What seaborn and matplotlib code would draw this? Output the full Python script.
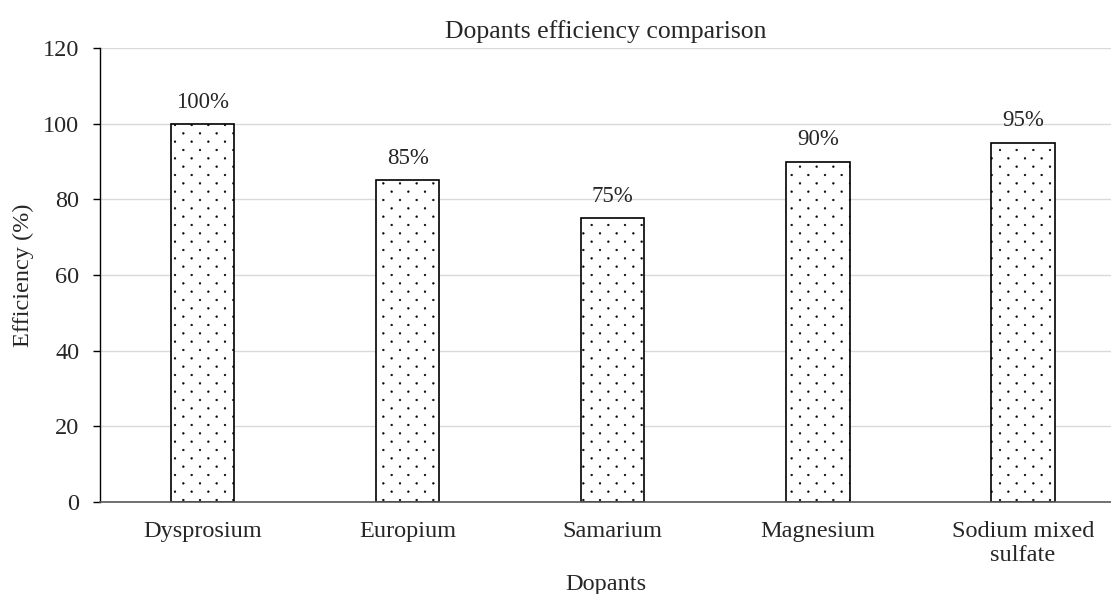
import matplotlib
matplotlib.use("Agg")
import matplotlib.pyplot as plt
import matplotlib.hatch as mhatch
from matplotlib.path import Path
import numpy as np
import seaborn as sns
import pandas as pd

categories = ["Dysprosium", "Europium", "Samarium", "Magnesium", "Sodium mixed\nsulfate"]
efficiency = [100, 85, 75, 90, 95]
labels = ["100%", "85%", "75%", "90%", "95%"]


# Dot texture: staggered lattice, rows twice as dense as columns
class DenseDots(mhatch.HatchPatternBase):
    size = 0.055

    def __init__(self, hatch, density):
        self.n = hatch.count('.') * density
        circ = Path.unit_circle()
        self.sv = circ.vertices
        self.sc = circ.codes
        if self.n == 0:
            self.num_vertices = 0
        else:
            n = self.n
            self.num_vertices = ((n + 1) ** 2 + n ** 2) * len(self.sv)

    def set_vertices_and_codes(self, vertices, codes):
        n = self.n
        off = 1.0 / n
        sv = self.sv * off * self.size
        vparts, cparts = [], []
        for row in range(2 * n + 1):
            if row % 2 == 0:
                cols = np.linspace(0, 1, n + 1)
            else:
                cols = np.linspace(off / 2, 1 - off / 2, n)
            y = row * off / 2
            for x in cols:
                vparts.append(sv + [x, y])
                cparts.append(self.sc)
        vertices[:] = np.concatenate(vparts)
        codes[:] = np.concatenate(cparts)


mhatch._hatch_types[:] = [c for c in mhatch._hatch_types
                          if c is not mhatch.SmallFilledCircles] + [DenseDots]

sns.set_style("white")
plt.rcParams['font.family'] = ['Liberation Serif', 'DejaVu Serif']
plt.rcParams['hatch.linewidth'] = 0.3
plt.rcParams['hatch.color'] = '#555555'

df = pd.DataFrame({"Dopants": categories, "Efficiency": efficiency})

fig = plt.figure(figsize=(11.11, 5.94), dpi=100)
ax = fig.add_axes([100/1111, 1 - 502/594, 1011/1111, (502-48)/594])

sns.barplot(data=df, x="Dopants", y="Efficiency", ax=ax, color="white",
            edgecolor="black", linewidth=1.2, width=0.31, hatch=".", saturation=1)

for i, (v, l) in enumerate(zip(efficiency, labels)):
    ax.annotate(l, (i, v), xytext=(0, 8), textcoords="offset points",
                ha="center", va="bottom", fontsize=16.5)

ax.set_xlim(-0.5, 4.43)
ax.set_ylim(0, 120)
ax.set_yticks(range(0, 121, 20))
ax.yaxis.grid(True, color="#d9d9d9", linewidth=1)
ax.set_axisbelow(True)
for s in ["top", "right"]:
    ax.spines[s].set_visible(False)
ax.spines["left"].set_color("black")
ax.spines["bottom"].set_color("#595959")
ax.spines["left"].set_linewidth(1)
ax.spines["bottom"].set_linewidth(1.2)
ax.tick_params(axis="y", left=True, length=5, width=1, labelsize=17.5, color="black", pad=10)
ax.tick_params(axis="x", bottom=False, labelsize=17.5, pad=10)
ax.set_xlabel("Dopants", fontsize=17.5, labelpad=6)
ax.set_ylabel("Efficiency (%)", fontsize=17.5, labelpad=6)
ax.set_title("Dopants efficiency comparison", fontsize=18.5, pad=7)

fig.savefig("out.png", dpi=100)
